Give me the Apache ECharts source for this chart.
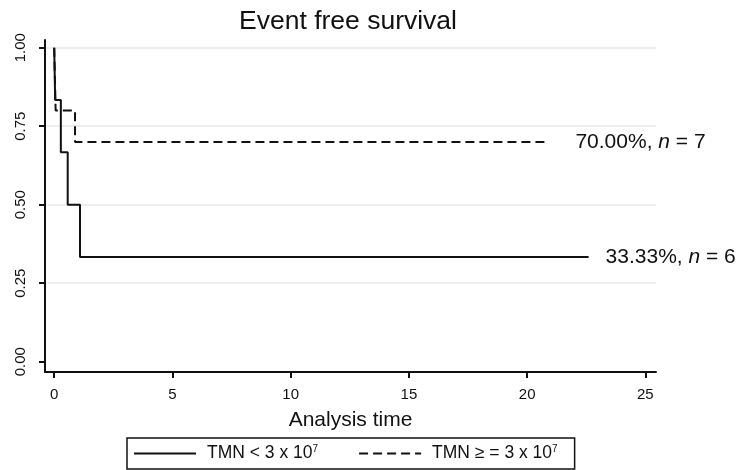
<!DOCTYPE html>
<html>
<head>
<meta charset="utf-8">
<script src="https://cdn.jsdelivr.net/npm/echarts@6/dist/echarts.min.js"></script>
<style>html,body{margin:0;padding:0;background:#fff}#c{width:739px;height:470px}</style>
</head>
<body>
<div id="c"></div>
<script>
// ---- data ----
const chartTitle = 'Event free survival';
const xAxisTitle = 'Analysis time';
const timeTicks = [0, 5, 10, 15, 20, 25];
const survivalTicks = [0, 0.25, 0.5, 0.75, 1];
const gridValues = [0.25, 0.5, 0.75, 1];
const lowName = 'TMN < 3 x 10^7';
const highName = 'TMN >= 3 x 10^7';
const lowTimes = [0, 0.04, 0.28, 0.57, 1.09, 22.6];
const lowSurvival = [1, 0.8333, 0.6667, 0.5, 0.3333, 0.3333];
const highTimes = [0, 0.06, 0.88, 20.9];
const highSurvival = [1, 0.8, 0.7, 0.7];
const lowNote = ['33.33%', 6];
const highNote = ['70.00%', 7];
const legendLabels = {};
legendLabels[lowName] = '{b|TMN < 3 x 10}{s|7}';
legendLabels[highName] = '{b|TMN \u2265 = 3 x 10}{s|7}';

const FONT = '"Liberation Sans", Arial, Helvetica, sans-serif';
const INK = '#111';

const chart = echarts.init(document.getElementById('c'), null, {renderer: 'canvas'});
const pairs = (xs, ys) => xs.map((x, i) => [x, ys[i]]);
const noteFmt = (note) => () => note[0] + ', {i|n} = ' + note[1];

chart.setOption({
  animation: false,
  backgroundColor: '#fff',
  textStyle: {fontFamily: FONT, color: INK},
  title: {
    text: chartTitle,
    left: 348,
    textAlign: 'center',
    top: 8,
    padding: 0,
    textStyle: {fontFamily: FONT, fontSize: 26.5, fontWeight: 'normal', color: INK}
  },
  grid: {left: 45, right: 83, top: 40, bottom: 98, containLabel: false, outerBoundsMode: 'none'},
  xAxis: {
    type: 'value',
    min: -0.39,
    max: 25.45,
    name: xAxisTitle,
    nameLocation: 'middle',
    nameGap: 38,
    nameTextStyle: {fontFamily: FONT, fontSize: 21, color: INK},
    axisLine: {show: true, onZero: false, lineStyle: {color: INK, width: 2}},
    axisTick: {show: true, length: 6, lineStyle: {color: INK, width: 2}, customValues: timeTicks},
    axisLabel: {show: true, margin: 15, fontFamily: FONT, fontSize: 15, color: INK, customValues: timeTicks, showMinLabel: true, showMaxLabel: true},
    splitLine: {show: false}
  },
  yAxis: {
    type: 'value',
    min: -0.0328,
    max: 1.0245,
    axisLine: {show: true, onZero: false, lineStyle: {color: INK, width: 2}},
    axisTick: {show: true, length: 6, lineStyle: {color: INK, width: 2}, customValues: survivalTicks},
    axisLabel: {
      show: true, rotate: 90, margin: 17, fontFamily: FONT, fontSize: 15, color: INK,
      customValues: survivalTicks,
      formatter: (v) => v.toFixed(2)
    },
    splitLine: {show: false}
  },
  legend: {
    data: [lowName, highName],
    left: 127,
    top: 438,
    orient: 'horizontal',
    itemWidth: 62,
    itemHeight: 14,
    itemGap: 40,
    padding: [6, 17, 6, 6],
    borderColor: INK,
    borderWidth: 1.5,
    borderRadius: 0,
    itemStyle: {color: 'transparent', borderWidth: 0, opacity: 0},
    formatter: (name) => legendLabels[name],
    textStyle: {
      fontFamily: FONT, fontSize: 17.5, color: INK, padding: [0, 0, 0, 6],
      rich: {
        b: {fontFamily: FONT, fontSize: 17.5, color: INK, lineHeight: 18},
        s: {fontFamily: FONT, fontSize: 10, color: INK, lineHeight: 18, padding: [0, 0, 9, 0]}
      }
    }
  },
  series: [
    {
      name: 'grid',
      type: 'line',
      data: [],
      z: 0,
      silent: true,
      markLine: {
        silent: true,
        z: 0,
        symbol: 'none',
        label: {show: false},
        lineStyle: {color: '#e8e8e8', width: 1.5, type: 'solid'},
        data: gridValues.map(v => ({yAxis: v}))
      }
    },
    {
      name: highName,
      type: 'line',
      step: 'end',
      z: 3,
      symbol: 'none',
      showSymbol: false,
      data: pairs(highTimes, highSurvival),
      lineStyle: {color: INK, width: 2, type: [9, 5]},
      itemStyle: {color: INK},
      endLabel: {
        show: true, distance: 27, fontFamily: FONT, fontSize: 21, color: INK,
        formatter: noteFmt(highNote),
        rich: {i: {fontFamily: FONT, fontSize: 21, fontStyle: 'italic', color: INK}}
      }
    },
    {
      name: lowName,
      type: 'line',
      step: 'end',
      z: 4,
      symbol: 'none',
      showSymbol: false,
      data: pairs(lowTimes, lowSurvival),
      lineStyle: {color: INK, width: 2, type: 'solid'},
      itemStyle: {color: INK},
      endLabel: {
        show: true, distance: 17, fontFamily: FONT, fontSize: 21, color: INK,
        formatter: noteFmt(lowNote),
        rich: {i: {fontFamily: FONT, fontSize: 21, fontStyle: 'italic', color: INK}}
      }
    }
  ]
});
</script>
</body>
</html>
